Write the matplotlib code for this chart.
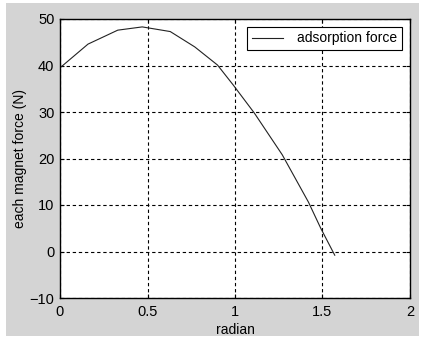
import matplotlib
matplotlib.use("Agg")
import matplotlib.pyplot as plt
from matplotlib.patches import Rectangle

# values
radian = [0, 0.16, 0.33, 0.47, 0.63, 0.77, 0.90, 0.99, 1.11, 1.27, 1.42, 1.49, 1.57]
force = [39.5, 44.6, 47.6, 48.3, 47.3, 44.0, 40.1, 35.8, 29.8, 20.8, 10.6, 5.0, -0.8]
xticks = [0, 0.5, 1, 1.5, 2]
xticklabels = ["0", "0.5", "1", "1.5", "2"]
yticks = [-10, 0, 10, 20, 30, 40, 50]

plt.rcParams['font.family'] = ['Liberation Sans', 'DejaVu Sans']
plt.rcParams['font.size'] = 10

fig = plt.figure(figsize=(4.25, 3.4), dpi=100, facecolor='white')
# grey panel behind the axes, like a MATLAB figure window
fig.patches.append(Rectangle((6 / 425, 4 / 340), 413 / 425, 333 / 340,
                             transform=fig.transFigure, facecolor='#d4d4d4',
                             edgecolor='none', zorder=-1))

ax = fig.add_axes([60 / 425, 42 / 340, 350 / 425, 279 / 340])
ax.plot(radian, force, color='#222222', lw=0.8, label='adsorption force')

ax.set_xlim(0, 2)
ax.set_ylim(-10, 50)
ax.set_xticks(xticks)
ax.set_xticklabels(xticklabels)
ax.set_yticks(yticks)
ax.tick_params(direction='in', top=True, right=True, length=3, width=0.8,
               labelsize=10.5, colors='black')
ax.tick_params(axis='x', pad=5)
ax.tick_params(axis='y', pad=4)
ax.grid(True, color='black', linestyle=(0, (3, 2.5)), linewidth=0.8)
for s in ax.spines.values():
    s.set_linewidth(1.0)
    s.set_color('black')

ax.set_xlabel('radian', fontsize=10, labelpad=3)
ax.set_ylabel('each magnet force (N)', fontsize=10, labelpad=2)

leg = ax.legend(loc='upper right', fancybox=False, framealpha=1,
                edgecolor='black', fontsize=10, handlelength=2.3,
                borderaxespad=0.6, borderpad=0.3, handletextpad=1.0)
leg.get_frame().set_linewidth(0.8)

fig.savefig('out.png', dpi=100, facecolor=fig.get_facecolor())
